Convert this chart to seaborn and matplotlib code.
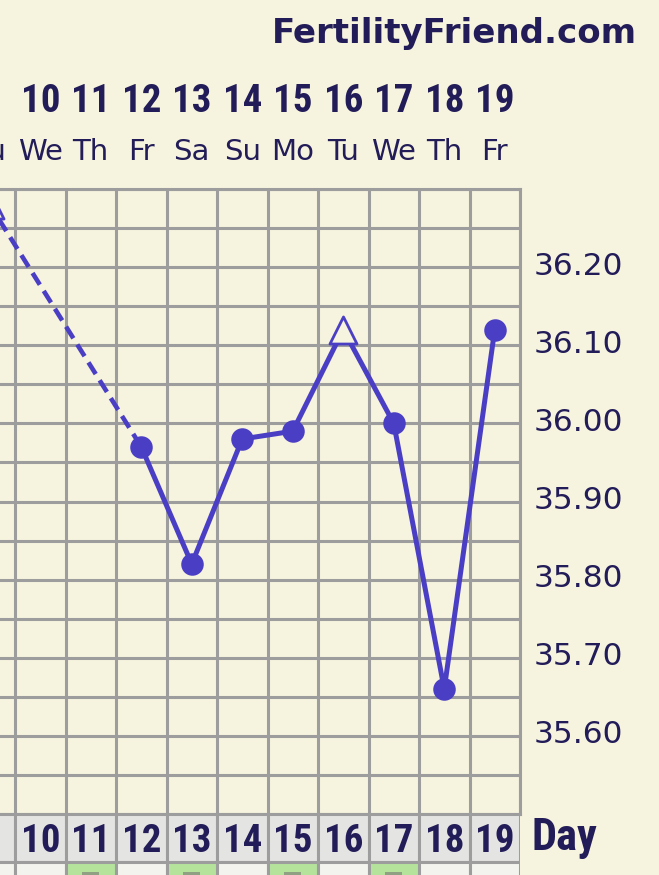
import matplotlib
matplotlib.use('Agg')
import numpy as np
import pandas as pd
import seaborn as sns
import matplotlib.pyplot as plt
import matplotlib.transforms as mtransforms
from matplotlib import font_manager


sns.set_style('white')
plt.rcParams['font.family'] = ['DejaVu Sans']

# chart values
days = [9, 10, 11, 12, 13, 14, 15, 16, 17, 18, 19]
weekdays = ['Tu', 'We', 'Th', 'Fr', 'Sa', 'Su', 'Mo', 'Tu', 'We', 'Th', 'Fr']
temp_days = [9, 12, 13, 14, 15, 16, 17, 18, 19]
temps = [36.28, 35.97, 35.82, 35.98, 35.99, 36.12, 36.00, 35.66, 36.12]
open_days = [9, 16]
green_days = [11, 13, 15, 17]
y_labels = [36.20, 36.10, 36.00, 35.90, 35.80, 35.70, 35.60]

BG = '#f6f3de'
GRID = '#9d9d9d'
LINE = '#4a3ec4'
NAVY = '#221c58'
STRIP = '#e4e4e2'
CELL = '#f4f4ee'
GREEN = '#b5e39c'

# narrow bold face for the day numbers, if one is around
names = {f.name for f in font_manager.fontManager.ttflist}
NUM_FONT, NUM_SIZE, DAY_SIZE = 'DejaVu Sans', 19, 22
for name, size, dsize in [('Liberation Sans Narrow', 27, 31),
                          ('Roboto Condensed', 28, 32),
                          ('Roboto', 24, 27)]:
    if name in names:
        NUM_FONT, NUM_SIZE, DAY_SIZE = name, size, dsize
        break

W, H = 659, 875


def px_rect(x0, y0, x1, y1):
    return [x0 / W, 1 - y1 / H, (x1 - x0) / W, (y1 - y0) / H]


fig = plt.figure(figsize=(W / 100, H / 100), dpi=100)
fig.patch.set_facecolor(BG)

ax = fig.add_axes(px_rect(-35.5, 189, 520, 814))
ax.set_facecolor(BG)
ax.set_xlim(8.5, 19.5)
ax.set_ylim(35.5, 36.3)
ax.set_xticks([])
ax.set_xticks(np.arange(8.5, 19.6, 1), minor=True)
ax.set_yticks(y_labels)
ax.set_yticklabels([f'{v:.2f}' for v in y_labels])
ax.set_yticks(np.arange(35.5, 36.31, 0.05), minor=True)
ax.yaxis.tick_right()
ax.tick_params(axis='both', which='both', length=0)
ax.tick_params(axis='y', pad=9.5, labelsize=22.5, labelcolor=NAVY)
ax.grid(which='both', color=GRID, lw=2.2)
ax.set_axisbelow(True)
for s in ax.spines.values():
    s.set_color(GRID)
    s.set_linewidth(2.2)

offset = mtransforms.ScaledTranslation(0, 0.04, fig.dpi_scale_trans)
for t in ax.get_yticklabels():
    t.set_transform(t.get_transform() + offset)

df = pd.DataFrame({'day': temp_days, 'temp': temps})
df['open'] = df['day'].isin(open_days)

# solid runs over consecutive days, dashed across missing days
run_id = (df['day'].diff().fillna(1) > 1).cumsum()
for _, run in df.groupby(run_id):
    if len(run) > 1:
        sns.lineplot(data=run, x='day', y='temp', color=LINE, lw=3.6,
                     ax=ax, zorder=3, sort=False)
for i in range(1, len(df)):
    if df['day'].iloc[i] - df['day'].iloc[i - 1] > 1:
        ax.plot(df['day'].iloc[i - 1:i + 1], df['temp'].iloc[i - 1:i + 1],
                color=LINE, lw=3.3, dashes=(3, 1.6), zorder=3)

sns.scatterplot(data=df[~df['open']], x='day', y='temp', color=LINE,
                edgecolor=LINE, s=225, marker='o', ax=ax, zorder=4)
sns.scatterplot(data=df[df['open']], x='day', y='temp', color=BG,
                edgecolor=LINE, linewidth=2.0, s=380, marker='^', ax=ax,
                zorder=4)
ax.set_xlabel('')
ax.set_ylabel('')

# header
top = mtransforms.blended_transform_factory(ax.transData, fig.transFigure)
fig.text(637 / W, 1 - 43 / H, 'FertilityFriend.com', ha='right',
         va='baseline', fontsize=24.5, fontweight='bold', color=NAVY)
for d, wd in zip(days, weekdays):
    ax.text(d, 1 - 112 / H, str(d), transform=top, ha='center',
            va='baseline', fontsize=NUM_SIZE, fontweight='bold',
            family=NUM_FONT, color=NAVY, clip_on=False)
    ax.text(d, 1 - 160 / H, wd, transform=top, ha='center', va='baseline',
            fontsize=21, color=NAVY, clip_on=False)

# day strip at the bottom
ax2 = fig.add_axes(px_rect(-35.5, 814, 520, 875))
ax2.set_xlim(8.5, 19.5)
ax2.set_ylim(0, 61)
ax2.axis('off')
ax2.bar(days, 48, bottom=13, width=1, color=STRIP, edgecolor=GRID, lw=2.2)
ax2.bar(days, 40, bottom=-27, width=1,
        color=[GREEN if d in green_days else CELL for d in days],
        edgecolor=GRID, lw=2.2)
ax2.bar(green_days, 3, bottom=0, width=0.34, color='#8fa083',
        edgecolor='none', lw=0)
for d in days:
    ax2.text(d, 23, str(d), ha='center', va='baseline', fontsize=NUM_SIZE,
             fontweight='bold', family=NUM_FONT, color=NAVY, clip_on=False)
fig.text(532 / W, 1 - 850 / H, 'Day', ha='left', va='baseline',
         fontsize=DAY_SIZE, fontweight='bold', family=NUM_FONT, color=NAVY)

fig.savefig('out.png', dpi=100, facecolor=BG)
